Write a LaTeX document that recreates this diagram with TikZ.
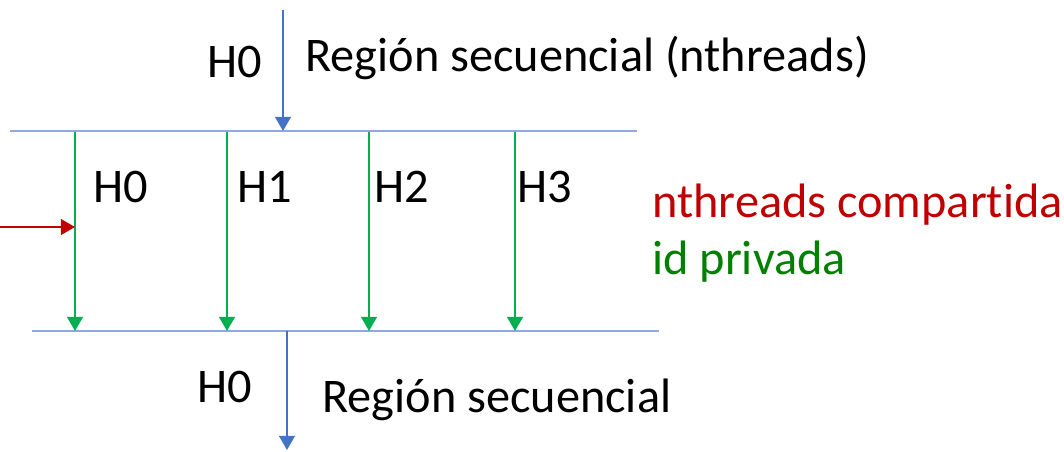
\documentclass[tikz,border=0pt]{standalone}
\usepackage{fontspec}
\setmainfont{Carlito}[Ligatures=NoCommon]
\usepackage{xcolor}
\usepackage{tikz}
\usetikzlibrary{arrows.meta}

\definecolor{hilo}{HTML}{4472C4}
\definecolor{barra}{HTML}{8FAADC}
\definecolor{verdehilo}{HTML}{00B050}
\definecolor{rojo}{HTML}{C00000}
\definecolor{verdetxt}{HTML}{008000}

\tikzset{
  flecha/.style={line width=0.8pt,-{Triangle[width=9pt,length=8pt]}},
  txt/.style={inner sep=0pt,font=\fontsize{27.5}{33}\selectfont},
}

\begin{document}
\begin{tikzpicture}[x=0.02cm,y=-0.02cm]

\useasboundingbox (0,0) rectangle (1064,451);

% barras de fork y join
\coordinate (fi) at (10,131);
\coordinate (fd) at (637,131);
\coordinate (ji) at (32,331);
\coordinate (jd) at (659,331);
\draw[barra,line width=0.9pt] (fi)--(fd);
\draw[barra,line width=0.9pt] (ji)--(jd);

% hilo maestro antes y despues
\coordinate (a0) at (283,10);
\coordinate (a1) at (283,131);
\coordinate (b0) at (287,331);
\coordinate (b1) at (287,450);
\draw[flecha,hilo] (a0)--(a1);
\draw[flecha,hilo] (b0)--(b1);

% los cuatro hilos
\foreach \x/\n in {75/0,227/1,369/2,515/3}{
	\coordinate (s\n) at (\x,132);
	\coordinate (e\n) at (\x,331);
	\draw[flecha,verdehilo] (s\n)--(e\n);
}

\node[txt,anchor=west] (h0) at (93,187) {H0};
\node[txt,anchor=west] (h1) at (237,187) {H1};
\node[txt,anchor=west] (h2) at (374,187) {H2};
\node[txt,anchor=west] (h3) at (517,187) {H3};

% variable compartida
\coordinate (r0) at (0,227);
\coordinate (r1) at (75,227);
\draw[flecha,rojo] (r0)--(r1);

\node[txt,anchor=west] (htop) at (207,62) {H0};
\node[txt,anchor=west] (rtop) at (305,58) {Región secuencial (nthreads)};
\node[txt,anchor=west] (hbot) at (197,387) {H0};
\node[txt,anchor=west] (rbot) at (322,400) {Región secuencial};

\node[txt,anchor=west,text=rojo] (comp) at (652,205) {nthreads compartida};
\node[txt,anchor=west,text=verdetxt] (priv) at (652,262) {id privada};

\end{tikzpicture}
\end{document}
